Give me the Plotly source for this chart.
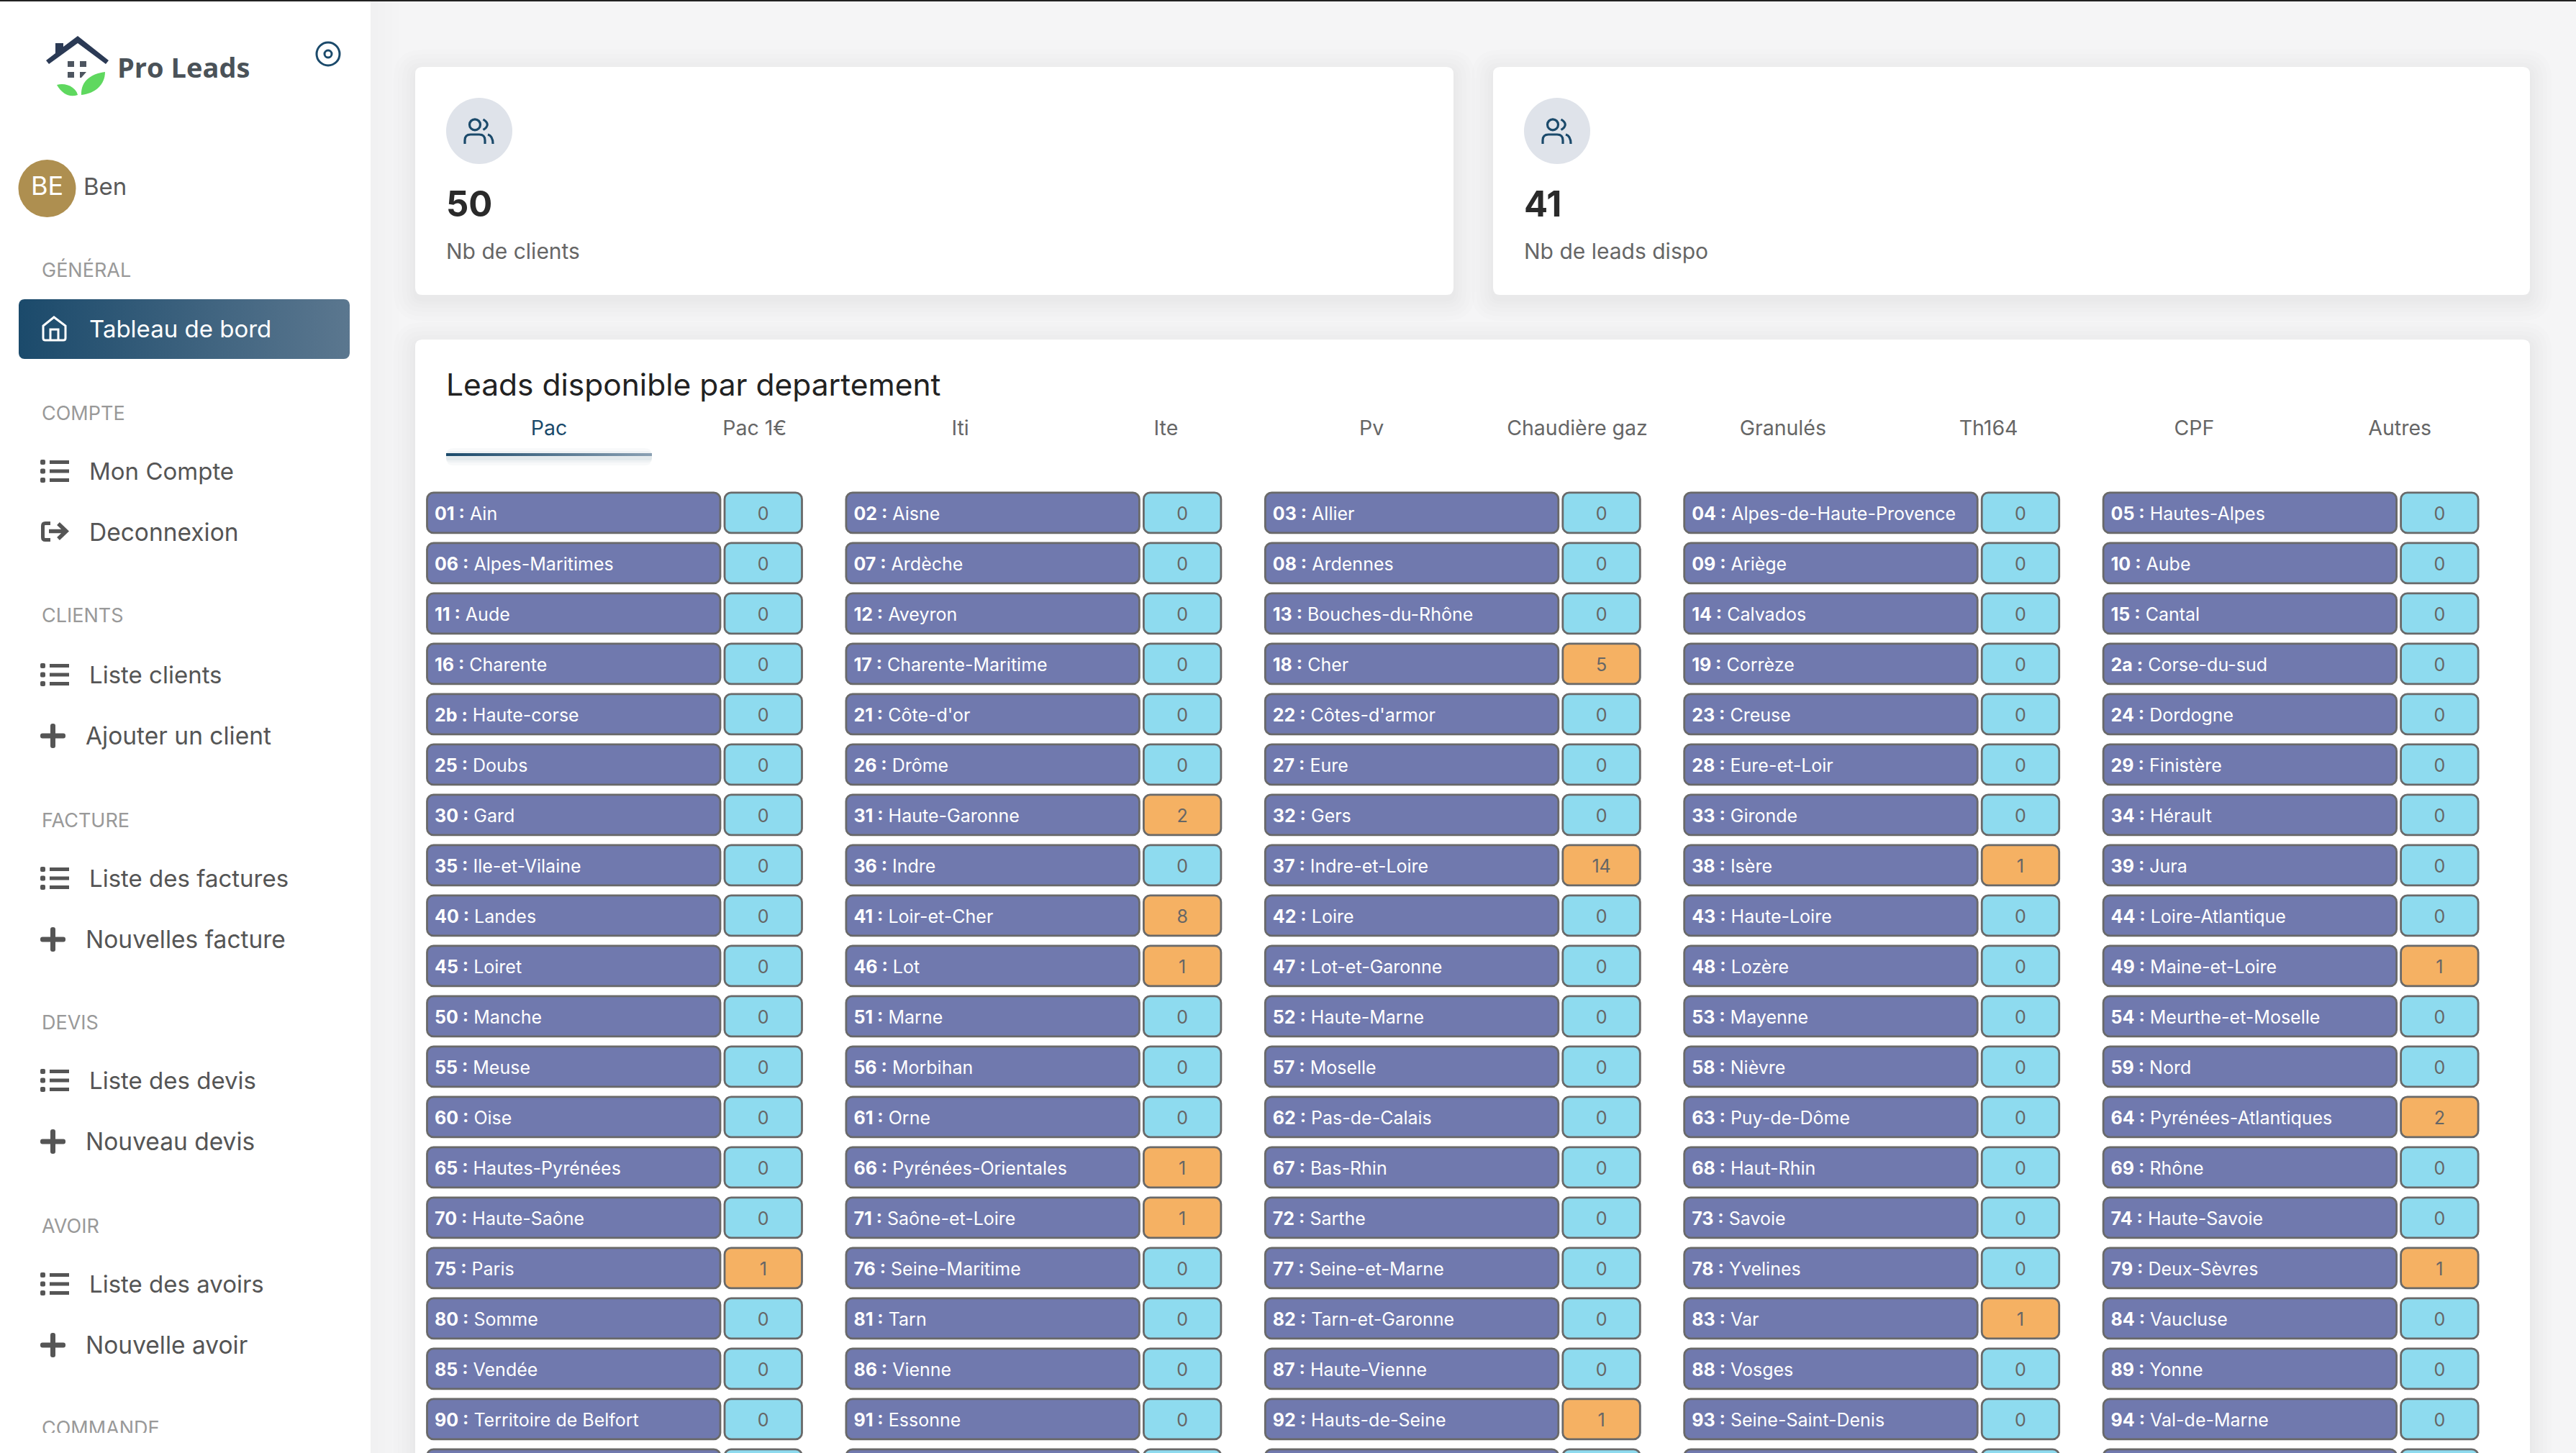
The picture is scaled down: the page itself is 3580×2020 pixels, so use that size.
"""Pro Leads dashboard: leads available per department"""

import math

import plotly.graph_objects as go

# data
dept_codes = [
    "01", "02", "03", "04", "05", "06", "07", "08", "09", "10",
    "11", "12", "13", "14", "15", "16", "17", "18", "19", "2a",
    "2b", "21", "22", "23", "24", "25", "26", "27", "28", "29",
    "30", "31", "32", "33", "34", "35", "36", "37", "38", "39",
    "40", "41", "42", "43", "44", "45", "46", "47", "48", "49",
    "50", "51", "52", "53", "54", "55", "56", "57", "58", "59",
    "60", "61", "62", "63", "64", "65", "66", "67", "68", "69",
    "70", "71", "72", "73", "74", "75", "76", "77", "78", "79",
    "80", "81", "82", "83", "84", "85", "86", "87", "88", "89",
    "90", "91", "92", "93", "94",
]
dept_names = [
    "Ain", "Aisne", "Allier", "Alpes-de-Haute-Provence", "Hautes-Alpes",
    "Alpes-Maritimes", "Ardèche", "Ardennes", "Ariège", "Aube",
    "Aude", "Aveyron", "Bouches-du-Rhône", "Calvados", "Cantal",
    "Charente", "Charente-Maritime", "Cher", "Corrèze", "Corse-du-sud",
    "Haute-corse", "Côte-d'or", "Côtes-d'armor", "Creuse", "Dordogne",
    "Doubs", "Drôme", "Eure", "Eure-et-Loir", "Finistère",
    "Gard", "Haute-Garonne", "Gers", "Gironde", "Hérault",
    "Ile-et-Vilaine", "Indre", "Indre-et-Loire", "Isère", "Jura",
    "Landes", "Loir-et-Cher", "Loire", "Haute-Loire", "Loire-Atlantique",
    "Loiret", "Lot", "Lot-et-Garonne", "Lozère", "Maine-et-Loire",
    "Manche", "Marne", "Haute-Marne", "Mayenne", "Meurthe-et-Moselle",
    "Meuse", "Morbihan", "Moselle", "Nièvre", "Nord",
    "Oise", "Orne", "Pas-de-Calais", "Puy-de-Dôme", "Pyrénées-Atlantiques",
    "Hautes-Pyrénées", "Pyrénées-Orientales", "Bas-Rhin", "Haut-Rhin", "Rhône",
    "Haute-Saône", "Saône-et-Loire", "Sarthe", "Savoie", "Haute-Savoie",
    "Paris", "Seine-Maritime", "Seine-et-Marne", "Yvelines", "Deux-Sèvres",
    "Somme", "Tarn", "Tarn-et-Garonne", "Var", "Vaucluse",
    "Vendée", "Vienne", "Haute-Vienne", "Vosges", "Yonne",
    "Territoire de Belfort", "Essonne", "Hauts-de-Seine", "Seine-Saint-Denis", "Val-de-Marne",
]
lead_counts = [
    0, 0, 0, 0, 0, 0, 0, 0, 0, 0,
    0, 0, 0, 0, 0, 0, 0, 5, 0, 0,
    0, 0, 0, 0, 0, 0, 0, 0, 0, 0,
    0, 2, 0, 0, 0, 0, 0, 14, 1, 0,
    0, 8, 0, 0, 0, 0, 1, 0, 0, 1,
    0, 0, 0, 0, 0, 0, 0, 0, 0, 0,
    0, 0, 0, 0, 2, 0, 1, 0, 0, 0,
    0, 1, 0, 0, 0, 1, 0, 0, 0, 1,
    0, 0, 0, 1, 0, 0, 0, 0, 0, 0,
    0, 0, 1, 0, 0,
]
# next row: only the top edge of its cells is on the page
cut_row_counts = [0, 0, 0, 0, 0]
tab_labels = ["Pac", "Pac 1€", "Iti", "Ite", "Pv", "Chaudière gaz", "Granulés", "Th164", "CPF", "Autres"]
kpi_values = ["50", "41"]
kpi_labels = ["Nb de clients", "Nb de leads dispo"]
section_labels = ["GÉNÉRAL", "COMPTE", "CLIENTS", "FACTURE", "DEVIS", "AVOIR", "COMMANDE"]
list_items = ["Mon Compte", "Liste clients", "Liste des factures", "Liste des devis", "Liste des avoirs"]
plus_items = ["Ajouter un client", "Nouvelles facture", "Nouveau devis", "Nouvelle avoir"]

# layout, in page pixels
W, H = 3580, 2020
FONT = "Inter"
TEXT_DY = 4
section_y = [374, 573, 854, 1139, 1420, 1703, 1984]
list_y = [655, 938, 1221, 1502, 1785]
plus_y = [1023, 1306, 1587, 1870]
kpi_x = [620, 2118]
kpi_icon_x = [666, 2164]
tab_x0, tab_step = 763, 285.8
col_x0, col_step = 593.5, 582.4
row_y0, row_step = 712.9, 70.0
label_w, value_w, cell_gap, cell_h = 407.5, 107.5, 6, 56

NAVY = "#1b4a6b"
shapes = []
traces = []


def round_path(x0, y0, x1, y1, r):
    return (f"M{x0+r},{y0} L{x1-r},{y0} Q{x1},{y0} {x1},{y0+r} L{x1},{y1-r} Q{x1},{y1} {x1-r},{y1} "
            f"L{x0+r},{y1} Q{x0},{y1} {x0},{y1-r} L{x0},{y0+r} Q{x0},{y0} {x0+r},{y0} Z")


def box(x0, y0, x1, y1, color, r=0, layer="below"):
    shapes.append(dict(type="path", path=round_path(x0, y0, x1, y1, r), xref="x", yref="y", layer=layer,
                       fillcolor=color, line=dict(color=color, width=0)))


def curve(path, color, lw, fill="rgba(0,0,0,0)"):
    shapes.append(dict(type="path", path=path, xref="x", yref="y", layer="above",
                       fillcolor=fill, line=dict(color=color, width=lw)))


def circle(cx, cy, r, fill, line=None, lw=0, layer="below"):
    shapes.append(dict(type="circle", xref="x", yref="y", x0=cx-r, x1=cx+r, y0=cy-r, y1=cy+r, layer=layer,
                       fillcolor=fill, line=dict(color=line or fill, width=lw)))


def label(xs, ys, texts, size, color, pos="middle right", family=FONT):
    traces.append(go.Scatter(x=xs, y=[y + TEXT_DY for y in ys], text=texts, mode="text", textposition=pos,
                             hoverinfo="skip", textfont=dict(size=size, color=color, family=family)))


def gradient(x0, y0, x1, y1, c0, c1, r=0):
    xs, ys = [], []
    for cx, cy, a0 in [(x1-r, y0+r, -90), (x1-r, y1-r, 0), (x0+r, y1-r, 90), (x0+r, y0+r, 180)]:
        for step in range(9):
            a = math.radians(a0 + step * 11.25)
            xs.append(cx + r * math.cos(a))
            ys.append(cy + r * math.sin(a))
    traces.append(go.Scatter(x=xs + xs[:1], y=ys + ys[:1], mode="lines", line=dict(width=0), fill="toself",
                             hoverinfo="skip", fillgradient=dict(type="horizontal", colorscale=[[0, c0], [1, c1]])))


def users_icon(cx, cy):
    circle(cx-6, cy-8.7, 7.5, "rgba(0,0,0,0)", NAVY, 3.2, layer="above")
    curve(f"M{cx+5.5},{cy-16} Q{cx+17},{cy-9} {cx+5.5},{cy-1.5}", NAVY, 3.2)
    curve(f"M{cx-20},{cy+18} L{cx-20},{cy+13} Q{cx-20},{cy+5} {cx-12},{cy+5} L{cx},{cy+5} "
          f"Q{cx+8},{cy+5} {cx+8},{cy+13} L{cx+8},{cy+18}", NAVY, 3.2)
    curve(f"M{cx+12},{cy+5} Q{cx+19},{cy+7} {cx+19},{cy+18}", NAVY, 3.2)


# page background and cards
for grow in [30, 24, 18, 12, 7, 3]:
    box(577-grow, 93-grow+6, 2020+grow, 410+grow+6, "rgba(0,0,0,0.006)", 10+grow)
    box(2075-grow, 93-grow+6, 3516+grow, 410+grow+6, "rgba(0,0,0,0.006)", 10+grow)
    box(577-grow, 472-grow+6, 3516+grow, 2120, "rgba(0,0,0,0.006)", 10+grow)
box(577, 93, 2020, 410, "#ffffff", 10)
box(2075, 93, 3516, 410, "#ffffff", 10)
box(577, 472, 3516, 2120, "#ffffff", 10)
for grow in [40, 30, 20, 10]:
    box(0, -10, 515+grow, 2030, "rgba(0,0,0,0.005)")
box(0, -10, 515, 2030, "#ffffff")

# logo
curve("M64,84 L77,74 L77,60 L88,60 L88,65 L108,50 L151,84 L147,89 L108,60 L68,89 Z", "#2b3a55", 0, "#2b3a55")
for x0, y0, x1, y1 in [(94, 85, 103, 93), (111, 85, 120, 93), (94, 100, 103, 108)]:
    box(x0, y0, x1, y1, "#4d5560", layer="above")
curve("M111,100 L120,100 L113,108 L111,108 Z", "#4d5560", 0, "#4d5560")
curve("M79,118 C92,114 106,122 108,132 C96,136 86,130 79,118 Z", "#5fd85f", 0, "#5fd85f")
curve("M113,132 C112,112 128,102 146,100 C146,118 132,130 113,132 Z", "#5fd85f", 0, "#5fd85f")
label([163], [94.5], ["<b>Pro Leads</b>"], 38, "#4a5258", family="Open Sans")
circle(456, 75, 16, "rgba(0,0,0,0)", NAVY, 3)
circle(456, 75, 5, "rgba(0,0,0,0)", NAVY, 3)

# user
circle(65.5, 262, 40, "#ae8f50")
label([65.5], [258], ["BE"], 36, "#ffffff", "middle center")
label([116], [259], ["Ben"], 33, "#5a5a5a")

# sidebar
label([58] * len(section_labels), section_y, section_labels, 27, "#999999")
gradient(26, 416, 486, 499, NAVY, "#5b778f", 8)
label([124], [457], ["Tableau de bord"], 33, "#ffffff")
curve("M60,453 L75,441 L91,453 L91,470 Q91,473 88,473 L63,473 Q60,473 60,470 Z M70,473 L70,458 L81,458 L81,473",
      "#ffffff", 3)
label([124] * len(list_items), list_y, list_items, 33, "#555555")
label([124], [740], ["Deconnexion"], 33.5, "#555555")
label([119] * len(plus_items), plus_y, plus_items, 33.5, "#555555")
for y in list_y:
    for offset in (-12.5, 0, 12.5):
        box(56, y+offset-3.5, 63, y+offset+3.5, "#555555", 2, layer="above")
        box(69, y+offset-2.5, 96, y+offset+2.5, "#555555", layer="above")
for y in plus_y:
    box(56, y-3.5, 91, y+3.5, "#555555", 3, layer="above")
    box(70, y-17, 77, y+17, "#555555", 3, layer="above")
curve("M70,727.5 L63,727.5 Q59.5,727.5 59.5,731 L59.5,747 Q59.5,750.5 63,750.5 L70,750.5", "#555555", 5)
curve("M68,738.5 L91,738.5 M81,728 L92,738.5 L81,749", "#555555", 5.5)
box(0, 1992, 515, 2030, "#ffffff", layer="above")

# kpi cards
for i in range(2):
    circle(kpi_icon_x[i], 182, 46, "#dfe3ea")
    users_icon(kpi_icon_x[i], 182)
    label([kpi_x[i]], [285], [f"<b>{kpi_values[i]}</b>"], 49, "#2a2a2a")
    label([kpi_x[i]], [348], [kpi_labels[i]], 30, "#666666")

# tabs
label([620], [535], ["Leads disponible par departement"], 42.5, "#222222")
tab_x = [tab_x0 + i * tab_step for i in range(len(tab_labels))]
label(tab_x[:1], [594], tab_labels[:1], 28.5, NAVY, "middle center")
label(tab_x[1:], [594] * 9, tab_labels[1:], 28.5, "#666666", "middle center")
for grow, alpha in [(10, 0.03), (6, 0.04), (3, 0.05)]:
    box(620, 630-grow+3, 906, 634+grow+3, f"rgba(27,74,107,{alpha})", grow)
gradient(620, 630, 906, 634, NAVY, "#8aa0b3")

# department cells
all_counts = lead_counts + cut_row_counts
rows = [i // 5 for i in range(len(all_counts))]
cols = [i % 5 for i in range(len(all_counts))]
cell_x = [col_x0 + c * col_step for c in cols]
cell_y = [row_y0 + r * row_step for r in rows]
value_x = [x + label_w + cell_gap for x in cell_x]
cell_line = dict(color="#696969", width=2.8)

traces.append(go.Bar(
    y=cell_y, x=[-label_w] * len(cell_y), base=[x + label_w for x in cell_x], orientation="h", width=cell_h,
    marker=dict(color="#7079ae", line=cell_line, cornerradius=9), hoverinfo="skip",
))
traces.append(go.Bar(
    y=cell_y, x=[value_w] * len(cell_y), base=value_x, orientation="h", width=cell_h,
    marker=dict(color=["#f5b163" if n > 0 else "#8edbef" for n in all_counts], line=cell_line, cornerradius=9),
    hoverinfo="skip",
))
n_shown = len(lead_counts)
label([x + 10.5 for x in cell_x[:n_shown]], cell_y[:n_shown],
      [f"<b>{c} :</b> {n}" for c, n in zip(dept_codes, dept_names)], 25, "#ffffff")
label([x + value_w / 2 for x in value_x[:n_shown]], cell_y[:n_shown], [str(n) for n in lead_counts], 25, "#666666",
      "middle center")

fig = go.Figure(traces)
box(0, 0, W, 2, "#222222", layer="above")
fig.update_layout(
    width=W, height=H, margin=dict(l=0, r=0, t=0, b=0),
    paper_bgcolor="#f5f5f6", plot_bgcolor="#f5f5f6",
    showlegend=False, barmode="overlay", shapes=shapes,
    xaxis=dict(range=[0, W], visible=False, fixedrange=True),
    yaxis=dict(range=[H, 0], visible=False, fixedrange=True),
)
fig.write_html("out.html", config=dict(displayModeBar=False), post_script="document.body.style.margin='0';")
